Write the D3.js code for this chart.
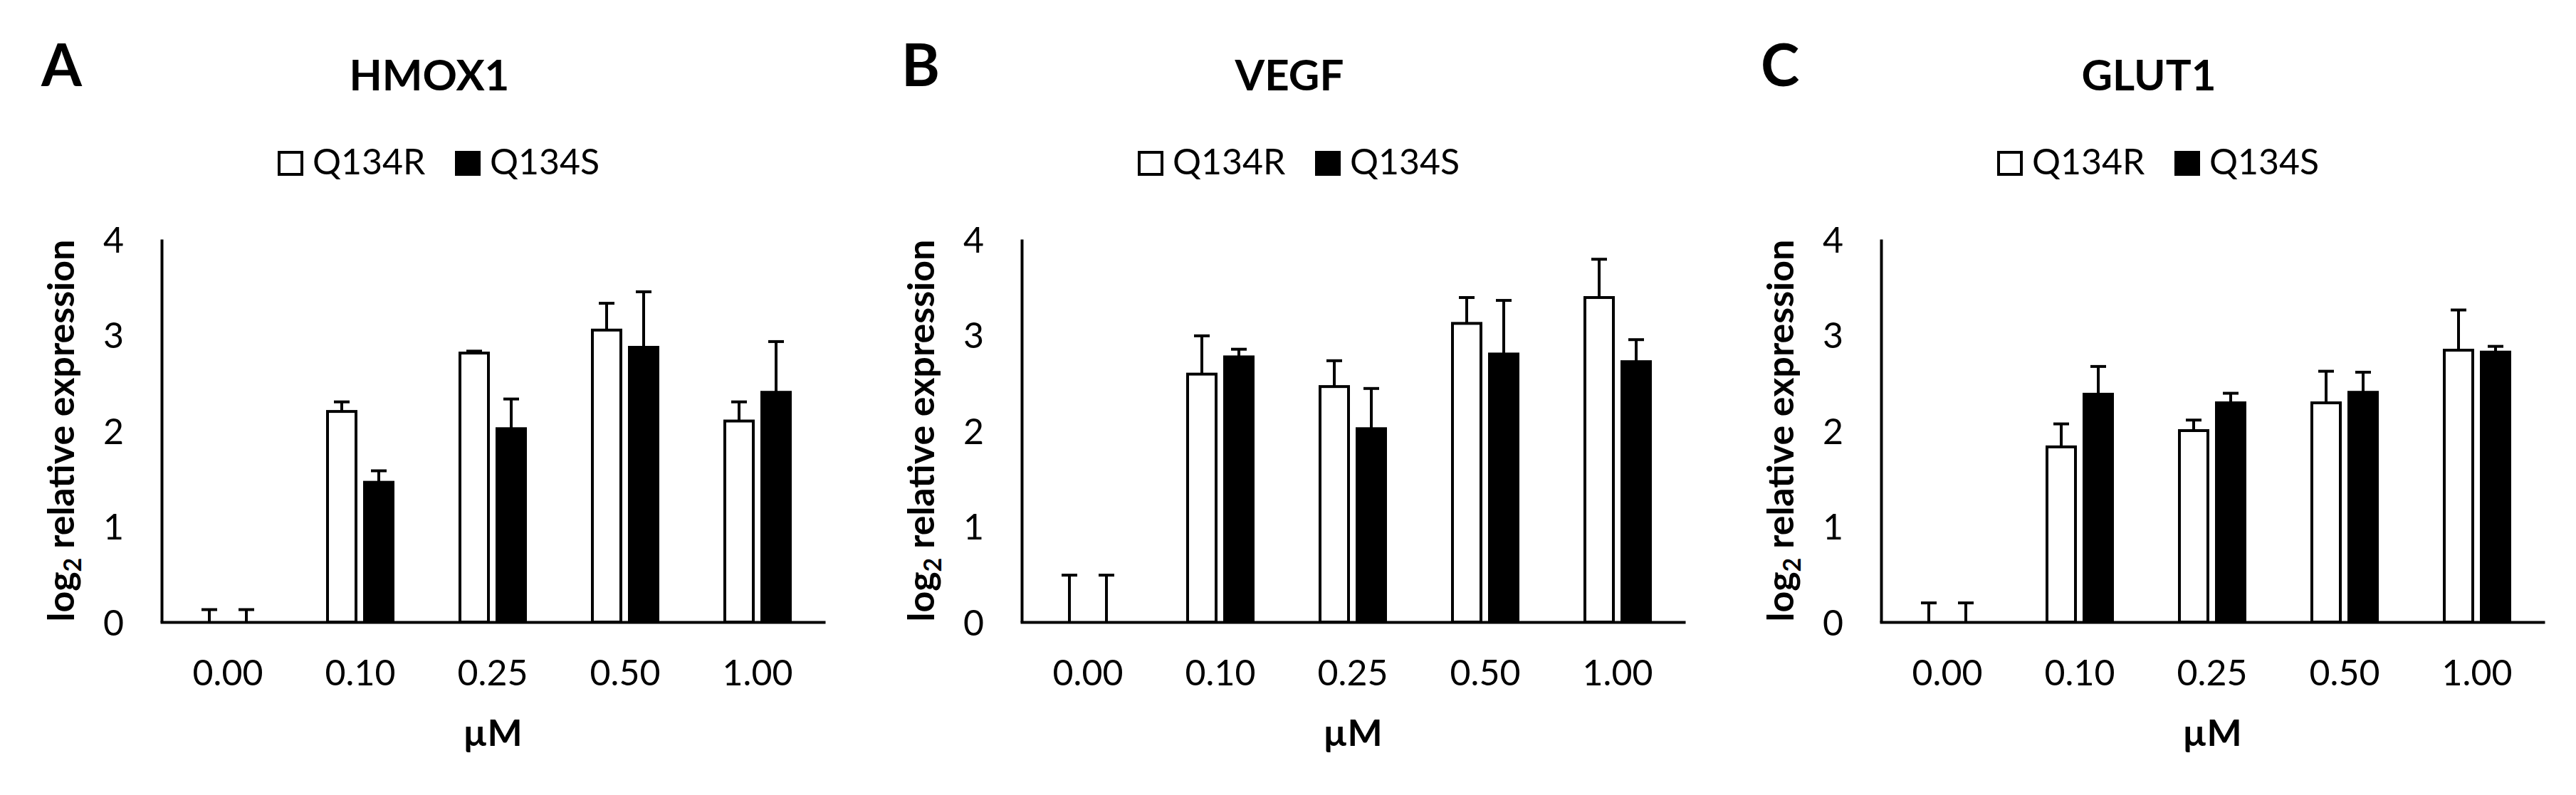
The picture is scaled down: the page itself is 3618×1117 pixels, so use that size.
<!DOCTYPE html>
<html>
<head>
<meta charset="utf-8">
<script src="https://cdn.jsdelivr.net/npm/d3@7/dist/d3.min.js"></script>
<style>
	body { margin: 0; background: #fff; }
	svg { display: block; }
</style>
</head>
<body>
<div id="chart"></div>
<script>

var doses = ["0.00", "0.10", "0.25", "0.50", "1.00"];
var seriesNames = ["Q134R", "Q134S"];
var panelLetters = ["A", "B", "C"];
var geneNames = ["HMOX1", "VEGF", "GLUT1"];
var yTicks = [0, 1, 2, 3, 4];

// means and upper error bars (log2 relative expression)
var hmox1R    = [0, 2.20, 2.81, 3.05, 2.10];
var hmox1RErr = [0.13, 0.10, 0.02, 0.28, 0.20];
var hmox1S    = [0, 1.46, 2.02, 2.87, 2.40];
var hmox1SErr = [0.13, 0.12, 0.31, 0.58, 0.53];

var vegfR    = [0, 2.59, 2.46, 3.12, 3.39];
var vegfRErr = [0.49, 0.40, 0.27, 0.27, 0.40];
var vegfS    = [0, 2.77, 2.02, 2.80, 2.72];
var vegfSErr = [0.49, 0.08, 0.42, 0.56, 0.23];

var glut1R    = [0, 1.83, 2.00, 2.29, 2.84];
var glut1RErr = [0.20, 0.24, 0.11, 0.33, 0.42];
var glut1S    = [0, 2.38, 2.29, 2.40, 2.82];
var glut1SErr = [0.20, 0.29, 0.10, 0.21, 0.06];

var panels = [
	{ values: [hmox1R, hmox1S], errors: [hmox1RErr, hmox1SErr] },
	{ values: [vegfR, vegfS], errors: [vegfRErr, vegfSErr] },
	{ values: [glut1R, glut1S], errors: [glut1RErr, glut1SErr] }
];

var WIDTH = 3618, HEIGHT = 1117;
var PANEL_X = [0, 1208, 2415];
var FONT = "Lato, 'Open Sans', 'DejaVu Sans', sans-serif";
var LINE_W = 4;
var CAP_W = 22;
var FILLS = ["#ffffff", "#000000"];

var svg = d3.select("#chart").append("svg")
	.attr("width", WIDTH)
	.attr("height", HEIGHT)
	.attr("font-family", FONT);

svg.append("rect").attr("width", WIDTH).attr("height", HEIGHT).attr("fill", "#fff");

var x0 = d3.scaleBand().domain(doses).range([227, 1157]);
var x1 = d3.scaleBand().domain(d3.range(seriesNames.length))
	.range([0, x0.bandwidth()])
	.paddingInner(0.2308)
	.paddingOuter(0.904);
var y = d3.scaleLinear().domain([0, 4]).range([874, 336]);

panels.forEach(function(panel, p) {
	var g = svg.append("g").attr("transform", "translate(" + PANEL_X[p] + ",0)");

	// panel letter and gene title
	g.append("text")
		.attr("x", 58).attr("y", 121)
		.attr("font-size", 82).attr("font-weight", "bold")
		.text(panelLetters[p]);

	g.append("text")
		.attr("x", 603).attr("y", 127)
		.attr("text-anchor", "middle")
		.attr("font-size", 60).attr("font-weight", "bold")
		.text(geneNames[p]);

	// legend
	var legendX = [390, 639];
	var legend = g.selectAll("g.legend-item")
		.data(seriesNames)
		.enter().append("g")
		.attr("class", "legend-item")
		.attr("transform", function(d, i) { return "translate(" + legendX[i] + ",212)"; });

	legend.append("rect")
		.attr("x", LINE_W / 2).attr("y", LINE_W / 2)
		.attr("width", 36 - LINE_W).attr("height", 35 - LINE_W)
		.attr("fill", function(d, i) { return FILLS[i]; })
		.attr("stroke", "#000")
		.attr("stroke-width", LINE_W);

	legend.append("text")
		.attr("x", 49).attr("y", 33)
		.attr("font-size", 50)
		.attr("fill", "#000")
		.text(function(d) { return d; });

	// axes
	var yAxis = d3.axisLeft(y).tickValues(yTicks).tickSize(0).tickSizeOuter(0).tickPadding(53)
		.tickFormat(d3.format("d"));
	var yG = g.append("g")
		.attr("transform", "translate(" + x0.range()[0] + ",0)")
		.call(yAxis);
	yG.select(".domain").attr("stroke", "#000").attr("stroke-width", LINE_W);
	yG.selectAll("text")
		.attr("font-family", FONT).attr("font-size", 50).attr("fill", "#000")
		.attr("dy", "0.36em");

	var xAxis = d3.axisBottom(x0).tickSize(0).tickSizeOuter(0).tickPadding(0);
	var xG = g.append("g")
		.attr("transform", "translate(0," + y(0) + ")")
		.call(xAxis);
	xG.select(".domain").attr("stroke", "#000").attr("stroke-width", LINE_W)
		.attr("stroke-linecap", "square");
	xG.selectAll("text")
		.attr("font-family", FONT).attr("font-size", 50).attr("fill", "#000")
		.attr("dy", null).attr("y", 89);

	g.append("text")
		.attr("x", (x0.range()[0] + x0.range()[1]) / 2).attr("y", 1048)
		.attr("text-anchor", "middle")
		.attr("font-size", 52).attr("font-weight", "bold")
		.text("\u00b5M");

	var yTitle = g.append("text")
		.attr("transform", "translate(104," + ((y(0) + y(4)) / 2) + ") rotate(-90)")
		.attr("text-anchor", "middle")
		.attr("font-size", 52).attr("font-weight", "bold");
	yTitle.append("tspan").text("log");
	yTitle.append("tspan").attr("font-size", 34).attr("dy", "0.3em").text("2");
	yTitle.append("tspan").attr("dy", "-0.2em").text(" relative expression");

	// bars
	var rows = [];
	panel.values.forEach(function(vals, s) {
		vals.forEach(function(v, i) {
			rows.push({ dose: doses[i], series: s, value: v, err: panel.errors[s][i] });
		});
	});

	g.selectAll("rect.bar")
		.data(rows.filter(function(d) { return d.value > 0; }))
		.enter().append("rect")
		.attr("class", "bar")
		.attr("x", function(d) { return x0(d.dose) + x1(d.series); })
		.attr("y", function(d) { return y(d.value); })
		.attr("width", x1.bandwidth())
		.attr("height", function(d) { return y(0) - y(d.value); })
		.attr("fill", function(d) { return FILLS[d.series]; })
		.attr("stroke", "#000")
		.attr("stroke-width", LINE_W);

	// upper error bars
	var errG = g.selectAll("g.err")
		.data(rows)
		.enter().append("g")
		.attr("class", "err")
		.attr("stroke", "#000")
		.attr("stroke-width", LINE_W);

	errG.append("line")
		.attr("x1", function(d) { return x0(d.dose) + x1(d.series) + x1.bandwidth() / 2; })
		.attr("x2", function(d) { return x0(d.dose) + x1(d.series) + x1.bandwidth() / 2; })
		.attr("y1", function(d) { return y(d.value); })
		.attr("y2", function(d) { return y(d.value + d.err); });

	errG.append("line")
		.attr("x1", function(d) { return x0(d.dose) + x1(d.series) + x1.bandwidth() / 2 - CAP_W / 2; })
		.attr("x2", function(d) { return x0(d.dose) + x1(d.series) + x1.bandwidth() / 2 + CAP_W / 2; })
		.attr("y1", function(d) { return y(d.value + d.err); })
		.attr("y2", function(d) { return y(d.value + d.err); });
});

</script>
</body>
</html>
